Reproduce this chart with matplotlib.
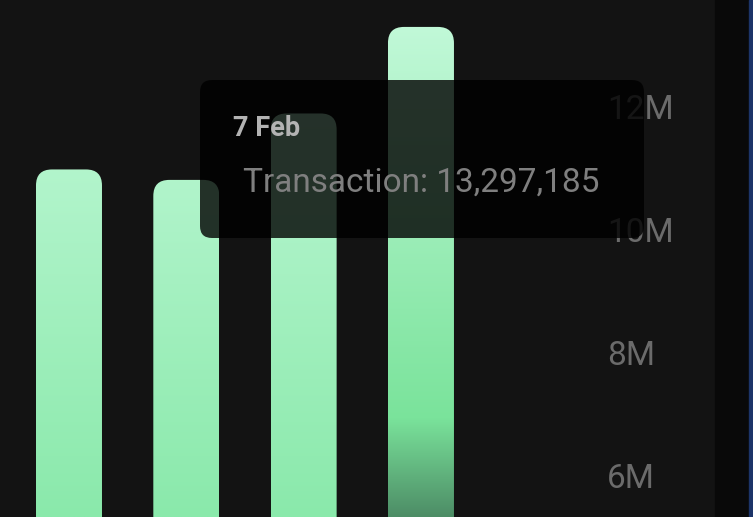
import numpy as np
import matplotlib
matplotlib.use('Agg')
import matplotlib.pyplot as plt
from matplotlib.patches import FancyBboxPatch, Rectangle
from matplotlib.colors import to_rgb
from matplotlib.ticker import FuncFormatter

plt.rcParams['font.family'] = ['Roboto', 'DejaVu Sans']

# ── Data ─────────────────────────────────────────────────────────────────────
DAYS         = ['4 Feb', '5 Feb', '6 Feb', '7 Feb']
TRANSACTIONS = [10_980_000, 10_810_000, 11_890_000, 13_297_185]
Y_TICKS      = [6_000_000, 8_000_000, 10_000_000, 12_000_000]
ACTIVE       = 3            # hovered bar shown in the tooltip
SERIES_NAME  = 'Transaction'

BG      = '#131313'
TICK_C  = '#6b6b6b'
W, H    = 753, 517          # output size in px
AX_W    = 600               # axes width in px (labels sit to the right)
X_LIM   = (-0.588, 4.526)
Y_LIM   = (5.329e6, 13.735e6)
BAR_W   = 0.5625
RADIUS  = 16                # px


def lerp(c1, c2, t):
    a, b = np.array(to_rgb(c1)), np.array(to_rgb(c2))
    return a + (b - a) * np.clip(t, 0, 1)[..., None]


def bar_colors(vals, active):
    """Vertical gradient, evaluated on absolute values."""
    t = (Y_LIM[1] - vals) / (Y_LIM[1] - Y_LIM[0])          # 0 top, 1 bottom
    if not active:
        return lerp('#c6fadc', '#8ae9ab', t)
    knee = 0.81
    up = lerp('#c6fadc', '#7ae39b', t / knee)
    lo = lerp('#7ae39b', '#4d8d66', (t - knee) / (1 - knee))
    return np.where((t < knee)[..., None], up, lo)


fig = plt.figure(figsize=(W / 100, H / 100), dpi=100, facecolor=BG)

# right side strips of the page
fig.add_artist(Rectangle((715 / W, 0), 34 / W, 1, transform=fig.transFigure,
                         color='#090909', zorder=-1))
fig.add_artist(Rectangle((749 / W, 0), 4 / W, 1, transform=fig.transFigure,
                         color='#1c3468', zorder=-1))

ax = fig.add_axes([0, 0, AX_W / W, 1])
ax.set_facecolor('none')
ax.set_xlim(*X_LIM)
ax.set_ylim(*Y_LIM)
for s in ax.spines.values():
    s.set_visible(False)

# ── Bars with rounded tops ───────────────────────────────────────────────────
px_x = AX_W / (X_LIM[1] - X_LIM[0])
px_y = H / (Y_LIM[1] - Y_LIM[0])
r_x  = RADIUS / px_x
aspect = px_x / px_y

for i, val in enumerate(TRANSACTIONS):
    bottom = Y_LIM[0] - 1e6
    clip = FancyBboxPatch((i - BAR_W / 2, bottom), BAR_W, val - bottom,
                          boxstyle=f'round,pad=0,rounding_size={r_x}',
                          mutation_aspect=aspect, facecolor='none',
                          edgecolor='none', transform=ax.transData)
    ax.add_patch(clip)
    yy = np.linspace(val, Y_LIM[0], 300)
    img = bar_colors(yy, i == ACTIVE)[:, None, :]
    im = ax.imshow(img, extent=(i - BAR_W / 2, i + BAR_W / 2, Y_LIM[0], val),
                   aspect='auto', interpolation='bilinear', zorder=2)
    im.set_clip_path(clip)

ax.set_xlim(*X_LIM)
ax.set_ylim(*Y_LIM)
ax.set_xticks([])
ax.yaxis.tick_right()
ax.set_yticks(Y_TICKS)
ax.yaxis.set_major_formatter(FuncFormatter(lambda v, _: f'{v / 1e6:.0f}M'))
ax.tick_params(axis='y', length=0, pad=5, labelsize=24, labelcolor=TICK_C)

# ── Tooltip ──────────────────────────────────────────────────────────────────
tx, ty, tw, th = 200, 80, 444, 158
fig.add_artist(FancyBboxPatch((tx / W, 1 - (ty + th) / H), tw / W, th / H,
                              boxstyle=f'round,pad=0,rounding_size={12 / W}',
                              mutation_aspect=W / H, transform=fig.transFigure,
                              facecolor='black', alpha=0.8, edgecolor='none',
                              zorder=5))
fig.text(233 / W, 1 - 128 / H, DAYS[ACTIVE], fontsize=19.5, fontweight='bold',
         color='#b3b3b3', ha='left', va='center', zorder=6)
fig.text(243 / W, 1 - 183 / H, f'{SERIES_NAME}: {TRANSACTIONS[ACTIVE]:,}',
         fontsize=24, color='#7f7f7f', ha='left', va='center', zorder=6)

fig.savefig('out.png', dpi=100, facecolor=BG)
plt.close(fig)
